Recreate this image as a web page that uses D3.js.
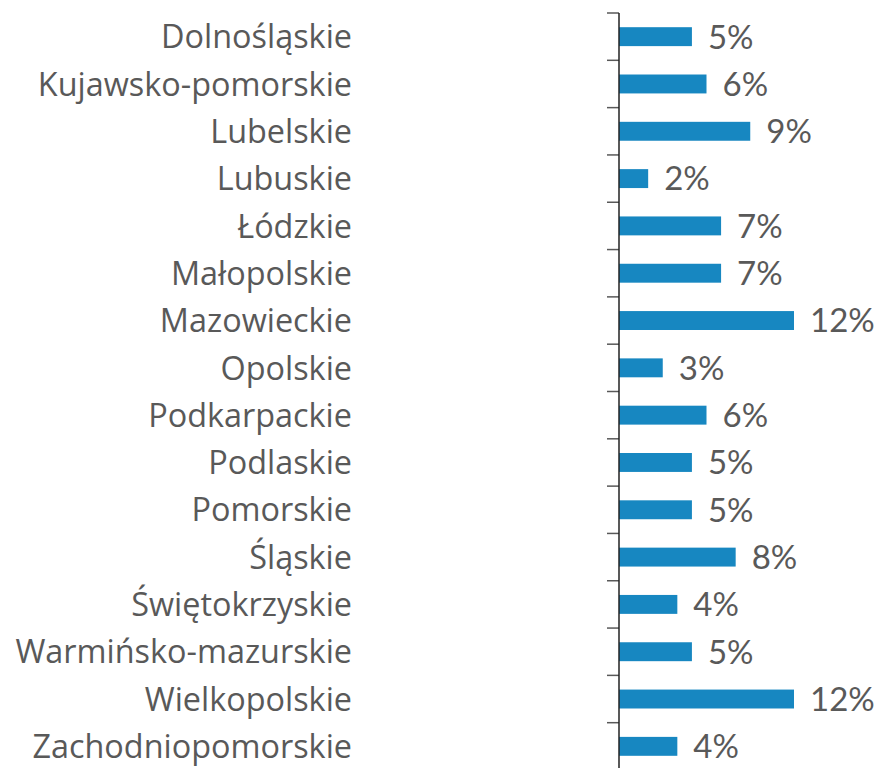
<!DOCTYPE html>
<html><head><meta charset="utf-8">
<script src="https://cdn.jsdelivr.net/npm/d3@7"></script>
<style>body{margin:0;background:#fff}</style>
</head><body>
<svg id="c" width="880" height="768"></svg>
<script>
const categories = ["Dolnośląskie","Kujawsko-pomorskie","Lubelskie","Lubuskie","Łódzkie","Małopolskie","Mazowieckie","Opolskie","Podkarpackie","Podlaskie","Pomorskie","Śląskie","Świętokrzyskie","Warmińsko-mazurskie","Wielkopolskie","Zachodniopomorskie"];
const values = [5,6,9,2,7,7,12,3,6,5,5,8,4,5,12,4];
const labels = ["5%","6%","9%","2%","7%","7%","12%","3%","6%","5%","5%","8%","4%","5%","12%","4%"];

const svg = d3.select("#c");
const y = d3.scaleBand().domain(categories).range([13, 770]).paddingInner(0.6).paddingOuter(0.3);
const x = d3.scaleLinear().domain([0, 12]).range([619, 794]);
const step = y.step();

// bars
svg.selectAll("rect.bar").data(categories).enter().append("rect")
  .attr("x", x(0)).attr("y", d => y(d))
  .attr("width", (d,i) => x(values[i]) - x(0))
  .attr("height", y.bandwidth())
  .attr("fill", "#1787c1");

// ticks at band boundaries
const tickPos = categories.map(d => y(d) - step*0.3).concat([y.range()[1]]);
svg.selectAll("line.tick").data(tickPos).enter().append("line")
  .attr("x1", x(0) - 12).attr("x2", x(0))
  .attr("y1", d => d).attr("y2", d => d)
  .attr("stroke", "#595959").attr("stroke-width", 1.5);
svg.append("line").attr("x1", x(0)).attr("x2", x(0))
  .attr("y1", y.range()[0]).attr("y2", y.range()[1])
  .attr("stroke", "#222").attr("stroke-width", 1.5);

// category labels
svg.selectAll("text.cat").data(categories).enter().append("text")
  .attr("x", 352).attr("y", d => y(d) + y.bandwidth()/2)
  .attr("dy", "0.36em")
  .attr("text-anchor", "end")
  .attr("font-family", "Open Sans")
  .attr("font-size", 32.4)
  .attr("fill", "#595959")
  .text(d => d);

// value labels
svg.selectAll("text.val").data(categories).enter().append("text")
  .attr("x", (d,i) => x(values[i]) + 16).attr("y", d => y(d) + y.bandwidth()/2)
  .attr("dy", "0.36em")
  .attr("font-family", "Lato")
  .attr("font-size", 33)
  .attr("fill", "#595959")
  .text((d,i) => labels[i]);
</script>
</body></html>
